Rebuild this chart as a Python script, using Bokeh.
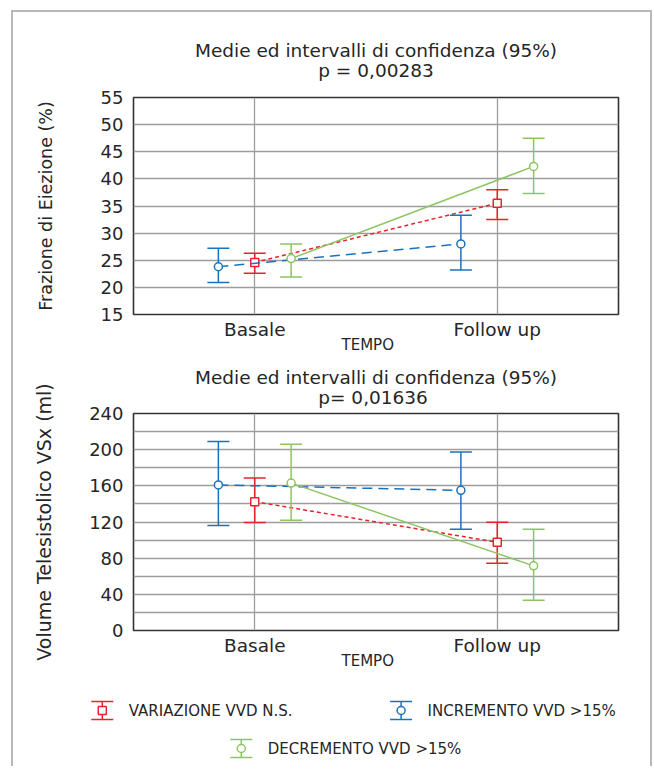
from bokeh.plotting import figure
from bokeh.layouts import column, row
from bokeh.models import FactorRange, Range1d, FixedTicker, Title, ColumnDataSource
from bokeh.transform import dodge
from bokeh.core.properties import value
from bokeh.embed import file_html
from bokeh.resources import INLINE

# ---------------- data ----------------
categories = ["Basale", "Follow up"]
group_names = ["VARIAZIONE VVD N.S.", "INCREMENTO VVD >15%", "DECREMENTO VVD >15%"]

# Frazione di Eiezione (%) : mean, lower CI, upper CI
fe_var_mean = [24.6, 35.5]
fe_var_low = [22.6, 32.5]
fe_var_high = [26.3, 38.0]
fe_inc_mean = [23.8, 28.0]
fe_inc_low = [20.9, 23.2]
fe_inc_high = [27.2, 33.3]
fe_dec_mean = [25.3, 42.3]
fe_dec_low = [21.9, 37.3]
fe_dec_high = [28.0, 47.5]

# Volume Telesistolico VSx (ml)
vt_var_mean = [142.5, 97.6]
vt_var_low = [119.5, 74.5]
vt_var_high = [168.8, 119.6]
vt_inc_mean = [161.0, 155.0]
vt_inc_low = [116.0, 112.0]
vt_inc_high = [209.0, 197.5]
vt_dec_mean = [163.0, 71.5]
vt_dec_low = [122.0, 33.5]
vt_dec_high = [206.0, 112.0]

fe_ticks = [15, 20, 25, 30, 35, 40, 45, 50, 55]
vt_ticks = [0, 40, 80, 120, 160, 200, 240]
vt_minor = [20, 60, 100, 140, 180, 220]

FONT = "DejaVu Sans"
RED = "#e8232b"
BLUE = "#1a72bd"
GREEN = "#8dc563"
GRID = "#9d9d9d"
TXT = "#262626"

styles = [
    dict(color=RED, marker="square", dash="4 3", offset=0.0),
    dict(color=BLUE, marker="circle", dash="10 6", offset=-0.15),
    dict(color=GREEN, marker="circle", dash="solid", offset=0.15),
]

FIG_W = 637


def make_chart(height, top, bottom, y_lo, y_hi, ticks, minor, series, title, ptext, ylabel,
               ylab_size, ylab_standoff, gap):
    p = figure(width=FIG_W, height=height, x_range=FactorRange(*categories, range_padding=0),
               y_range=Range1d(y_lo, y_hi), output_backend="svg", toolbar_location=None,
               min_border_left=120, min_border_right=32, min_border_top=top, min_border_bottom=bottom)
    p.outline_line_color = "#333333"
    p.outline_line_width = 1.6
    p.background_fill_color = "white"
    p.border_fill_color = "white"

    p.xgrid.grid_line_color = GRID
    p.xgrid.grid_line_width = 1.3
    p.ygrid.grid_line_color = GRID
    p.ygrid.grid_line_width = 1.3
    p.yaxis.ticker = FixedTicker(ticks=ticks, minor_ticks=minor)
    if minor:
        p.ygrid.minor_grid_line_color = GRID
        p.ygrid.minor_grid_line_width = 1.3

    for ax in (p.xaxis[0], p.yaxis[0]):
        ax.axis_line_color = None
        ax.major_tick_line_color = None
        ax.minor_tick_line_color = None
        ax.major_tick_out = 0
        ax.major_tick_in = 0
        ax.minor_tick_out = 0
        ax.minor_tick_in = 0
        ax.major_label_text_font = FONT
        ax.major_label_text_color = TXT
    p.xaxis.major_label_text_font_size = "18.5px"
    p.yaxis.major_label_text_font_size = "18px"
    p.xaxis.major_label_standoff = 4
    p.yaxis.major_label_standoff = 10
    p.yaxis.axis_label = ylabel
    p.yaxis.axis_label_text_font = FONT
    p.yaxis.axis_label_text_font_size = ylab_size
    p.yaxis.axis_label_text_font_style = "normal"
    p.yaxis.axis_label_text_color = TXT
    p.yaxis.axis_label_standoff = ylab_standoff

    for st, (mean, low, high) in zip(styles, series):
        src = ColumnDataSource(dict(cat=categories, mean=mean, low=low, high=high))
        xs = dodge("cat", st["offset"], range=p.x_range)
        p.line(x=xs, y="mean", source=src, line_color=st["color"], line_width=1.5,
               line_dash=st["dash"])
        p.segment(x0=xs, y0="low", x1=xs, y1="high", source=src, line_color=st["color"], line_width=1.5)
        p.scatter(x=xs, y="high", source=src, marker="dash", size=22, line_color=st["color"], line_width=1.5)
        p.scatter(x=xs, y="low", source=src, marker="dash", size=22, line_color=st["color"], line_width=1.5)
        p.scatter(x=xs, y="mean", source=src, marker=st["marker"], size=8, line_color=st["color"],
                  fill_color="white", line_width=1.5)

    # title block: spacer next to the frame, then the p-value line, main line outermost
    p.add_layout(Title(text=" ", align="center", text_font=FONT, text_font_size="2px",
                       text_font_style="normal", standoff=gap), "above")
    p.add_layout(Title(text=ptext, align="center", text_font=FONT, text_font_size="18.5px",
                       text_font_style="normal", text_color=TXT, standoff=0), "above")
    p.title.text = title
    p.title.align = "center"
    p.title.text_font = FONT
    p.title.text_font_size = "18.5px"
    p.title.text_font_style = "normal"
    p.title.text_color = TXT
    p.title.standoff = -7
    # x axis name, placed between the category labels
    p.add_layout(Title(text="TEMPO", align="left", offset=208, text_font=FONT, text_font_size="15px",
                       text_font_style="normal", text_color=TXT, standoff=-17), "below")
    return p


TITLE = "Medie ed intervalli di confidenza (95%)"

p1 = make_chart(343, 85, 41, 15, 55, fe_ticks, [],
                [(fe_var_mean, fe_var_low, fe_var_high),
                 (fe_inc_mean, fe_inc_low, fe_inc_high),
                 (fe_dec_mean, fe_dec_low, fe_dec_high)],
                TITLE, "p = 0,00283", "Frazione di Eiezione (%)", "17.5px", 42, 13)

p2 = make_chart(335, 58, 60, 0, 240, vt_ticks, vt_minor,
                [(vt_var_mean, vt_var_low, vt_var_high),
                 (vt_inc_mean, vt_inc_low, vt_inc_high),
                 (vt_dec_mean, vt_dec_low, vt_dec_high)],
                TITLE, "p=  0,01636", "Volume Telesistolico VSx (ml)", "19px", 31, 2)

# ---------------- legend panel ----------------
LEG_H = 76
lg = figure(width=FIG_W, height=LEG_H, x_range=Range1d(0, FIG_W), y_range=Range1d(0, LEG_H),
            output_backend="svg", toolbar_location=None, min_border=0)
lg.axis.visible = False
lg.grid.visible = False
lg.outline_line_color = None
lg.border_fill_color = "white"

legend_slots = [(88.8, 56), (387.6, 56), (227.8, 18)]  # key centre (px) of each entry
for st, name, (cx, cy) in zip(styles, group_names, legend_slots):
    c = st["color"]
    lg.segment(x0=[cx], y0=[cy - 9], x1=[cx], y1=[cy + 9], line_color=c, line_width=1.5)
    lg.segment(x0=[cx - 11, cx - 11], y0=[cy - 9, cy + 9], x1=[cx + 11, cx + 11], y1=[cy - 9, cy + 9],
               line_color=c, line_width=1.5)
    lg.scatter(x=[cx], y=[cy], marker=st["marker"], size=8, line_color=c, fill_color="white",
               line_width=1.5)
    lg.text(x=[cx + 26.5], y=[cy], text=[name], text_baseline="middle", text_align="left",
            text_font=value(FONT), text_font_size="15px", text_color=TXT)

layout = column(p1, p2, row(lg), styles={
    "margin-left": "11px", "margin-top": "10px",
    "border-left": "2px solid #b8b8b8", "border-top": "2px solid #b8b8b8",
    "border-right": "2px solid #b8b8b8",
})

open("out.html", "w").write(file_html(layout, INLINE))
